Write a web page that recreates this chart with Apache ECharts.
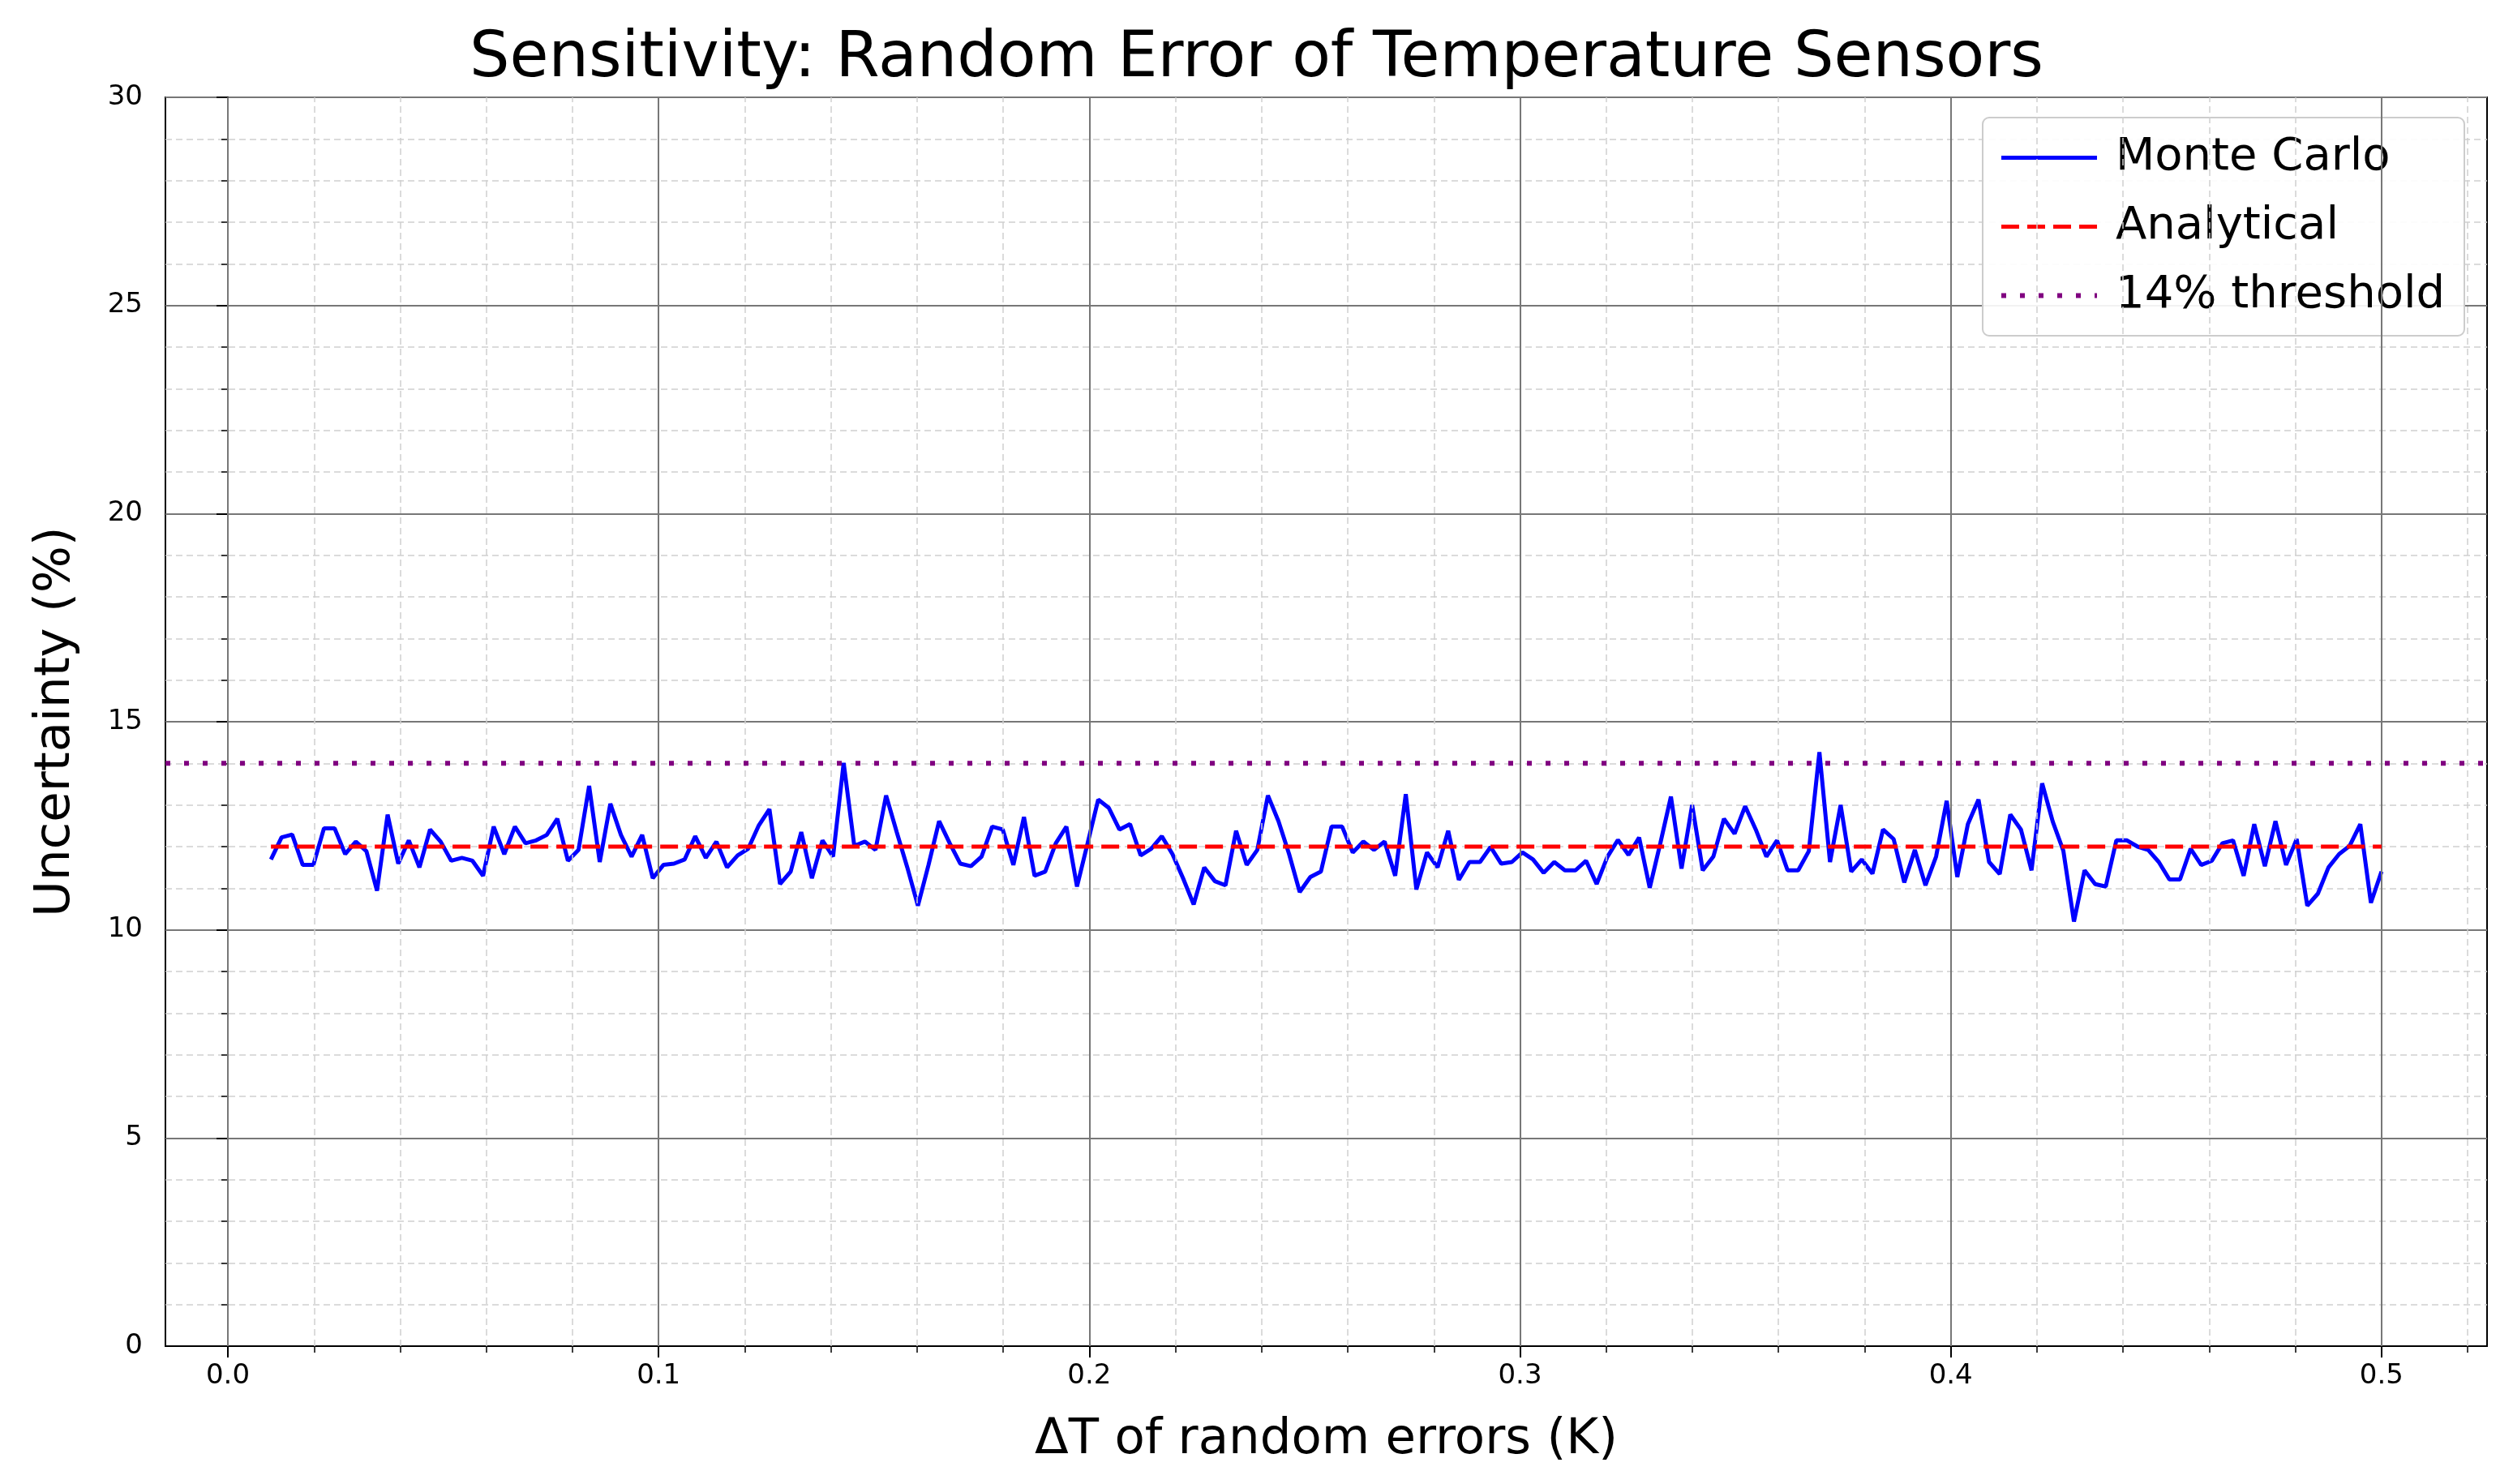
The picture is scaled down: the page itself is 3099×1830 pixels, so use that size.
<!DOCTYPE html>
<html><head><meta charset="utf-8">
<script src="https://cdn.jsdelivr.net/npm/echarts@6/dist/echarts.min.js"></script>
<style>html,body{margin:0;padding:0;background:#fff}#c{width:3099px;height:1830px}</style>
</head><body><div id="c"></div>
<script>
const xStart = 0.01, xEnd = 0.5, nPoints = 200;
const xMin = -0.0145, xMax = 0.5245;
const monteCarlo = [
11.69,12.22,12.29,11.56,11.56,12.44,12.44,11.82,12.12,11.89,
10.94,12.77,11.59,12.15,11.50,12.41,12.12,11.66,11.73,11.66,
11.30,12.48,11.82,12.48,12.08,12.15,12.28,12.67,11.66,11.92,
13.46,11.63,13.03,12.28,11.76,12.28,11.24,11.56,11.59,11.69,
12.25,11.73,12.12,11.50,11.79,11.95,12.51,12.90,11.10,11.40,
12.35,11.24,12.15,11.76,14.01,12.02,12.12,11.92,13.23,12.35,
11.50,10.58,11.56,12.61,12.08,11.59,11.53,11.76,12.48,12.41,
11.56,12.71,11.30,11.40,12.08,12.48,11.04,12.08,13.13,12.93,
12.41,12.54,11.79,11.95,12.25,11.82,11.24,10.61,11.50,11.17,
11.07,12.38,11.56,11.92,13.23,12.61,11.82,10.91,11.27,11.40,
12.48,12.48,11.86,12.12,11.92,12.12,11.30,13.26,10.97,11.86,
11.50,12.38,11.20,11.63,11.63,11.99,11.59,11.63,11.86,11.69,
11.37,11.63,11.43,11.43,11.66,11.10,11.75,12.16,11.80,12.22,
11.01,12.08,13.20,11.47,13.00,11.43,11.76,12.67,12.31,12.97,
12.41,11.76,12.15,11.43,11.43,11.89,14.27,11.63,13.00,11.40,
11.69,11.35,12.41,12.18,11.14,11.92,11.07,11.76,13.10,11.27,
12.54,13.13,11.63,11.34,12.77,12.41,11.43,13.52,12.60,11.90,
10.20,11.43,11.10,11.04,12.15,12.15,12.00,11.92,11.63,11.21,
11.21,11.95,11.56,11.66,12.08,12.15,11.30,12.54,11.53,12.61,
11.56,12.18,10.58,10.87,11.50,11.82,12.02,12.54,10.65,11.40
];
const analyticalValue = 12.0;
const thresholdValue = 14.0;
const xTickLabels = [0.0, 0.1, 0.2, 0.3, 0.4, 0.5];
const xMinorTicks = [0.02,0.04,0.06,0.08,0.12,0.14,0.16,0.18,0.22,0.24,0.26,0.28,0.32,0.34,0.36,0.38,0.42,0.44,0.46,0.48,0.52];

const xs = monteCarlo.map((_, i) => xStart + i * (xEnd - xStart) / (nPoints - 1));
const mcData = xs.map((x, i) => [x, monteCarlo[i]]);
const anData = xs.map(x => [x, analyticalValue]);
const thData = [[xMin, thresholdValue], [xMax, thresholdValue]];

const FONT = 'DejaVu Sans';
const mcLine = { color: '#0000ff', width: 5 };
const anLine = { color: '#ff0000', width: 5, type: [22, 10] };
const thLine = { color: '#800080', width: 6, type: [6, 17] };
const hidden = { opacity: 0, borderWidth: 0 };
const chart = echarts.init(document.getElementById('c'));
chart.setOption({
  animation: false,
  backgroundColor: '#fff',
  title: { text: 'Sensitivity: Random Error of Temperature Sensors', left: 'center', top: 30,
    textStyle: { fontFamily: FONT, fontSize: 78, fontWeight: 'normal', color: '#000' } },
  grid: { left: 204, right: 32, top: 120, bottom: 170, show: true, borderColor: '#000', borderWidth: 2, backgroundColor: 'transparent' },
  legend: {
    orient: 'vertical', right: 60, top: 145, itemWidth: 118, itemHeight: 20, itemGap: 22,
    padding: [18, 24, 18, 20], backgroundColor: 'rgba(255,255,255,0.9)', borderColor: '#ccc', borderWidth: 2, borderRadius: 8,
    textStyle: { fontFamily: FONT, fontSize: 56, color: '#000', lineHeight: 63, padding: [0, 0, 0, 18] },
    data: [
      { name: 'Monte Carlo', itemStyle: hidden, lineStyle: mcLine },
      { name: 'Analytical', itemStyle: hidden, lineStyle: anLine },
      { name: '14% threshold', itemStyle: hidden, lineStyle: thLine }
    ]
  },
  xAxis: [{
    type: 'value', min: xMin, max: xMax,
    name: 'ΔT of random errors (K)', nameLocation: 'middle', nameGap: 86,
    nameTextStyle: { fontFamily: FONT, fontSize: 61, color: '#000' },
    axisLine: { show: true, onZero: false, lineStyle: { color: '#000', width: 2 } },
    axisTick: { show: true, length: 14, inside: false, customValues: xTickLabels, lineStyle: { color: '#000', width: 2 } },
    axisLabel: { customValues: xTickLabels, margin: 20, fontFamily: FONT, fontSize: 34, color: '#000', formatter: v => v.toFixed(1) },
    splitLine: { show: false }
  }, {
    type: 'value', min: xMin, max: xMax, position: 'bottom',
    axisLine: { show: false },
    axisTick: { show: true, length: 8, customValues: xMinorTicks, lineStyle: { color: '#000', width: 1.5 } },
    axisLabel: { show: false }, splitLine: { show: false }
  }],
  yAxis: {
    type: 'value', min: 0, max: 30, interval: 5,
    name: 'Uncertainty (%)', nameLocation: 'middle', nameGap: 104, nameRotate: 90,
    nameTextStyle: { fontFamily: FONT, fontSize: 61, color: '#000' },
    axisLine: { show: true, lineStyle: { color: '#000', width: 2 } },
    axisTick: { show: true, length: 14, lineStyle: { color: '#000', width: 2 } },
    minorTick: { show: true, splitNumber: 5, length: 8, lineStyle: { color: '#000', width: 1.5 } },
    axisLabel: { margin: 28, fontFamily: FONT, fontSize: 34, color: '#000' },
    splitLine: { show: true, lineStyle: { color: '#777', width: 2 } },
    minorSplitLine: { show: true, lineStyle: { color: '#d0d0d0', width: 1.5, type: [8, 5] } }
  },
  series: [
    { name: 'xgrid', type: 'line', data: [], z: 0, silent: true,
      markLine: { silent: true, symbol: 'none', label: { show: false }, animation: false,
        data: [
          ...xMinorTicks.map(v => ({ xAxis: v, lineStyle: { color: '#d0d0d0', width: 1.5, type: [8, 5] } })),
          ...xTickLabels.map(v => ({ xAxis: v, lineStyle: { color: '#777', width: 2, type: 'solid' } }))
        ] } },
    { name: 'Monte Carlo', type: 'line', data: mcData, symbol: 'none', z: 4,
      lineStyle: mcLine, itemStyle: { color: '#0000ff' } },
    { name: 'Analytical', type: 'line', data: anData, symbol: 'none', z: 5,
      lineStyle: anLine, itemStyle: { color: '#ff0000' } },
    { name: '14% threshold', type: 'line', data: thData, symbol: 'none', z: 5,
      lineStyle: thLine, itemStyle: { color: '#800080' } }
  ]
});
</script></body></html>
